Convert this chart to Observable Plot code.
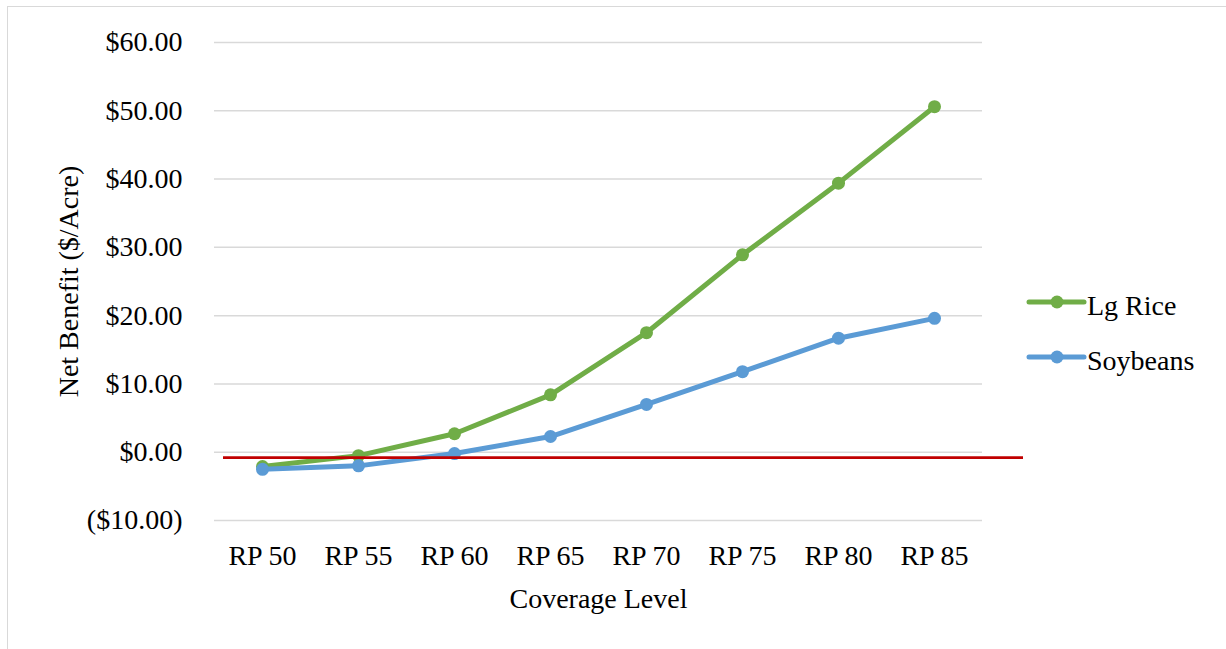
<!DOCTYPE html>
<html>
<head>
<meta charset="utf-8">
<script src="https://cdn.jsdelivr.net/npm/d3@7"></script>
<script src="https://cdn.jsdelivr.net/npm/@observablehq/plot@0.6"></script>
<style>
  html, body { margin: 0; padding: 0; background: #fff; }
  #wrap { position: relative; width: 1226px; height: 649px; overflow: hidden; font-family: "Liberation Serif", "Times New Roman", serif; }
  #border { position: absolute; left: 7px; top: 6px; right: -2px; bottom: -2px; border-top: 1.5px solid #d9d9d9; border-left: 1.5px solid #d9d9d9; }
  #chart { position: absolute; left: 0; top: 0; }
  #legend { position: absolute; left: 1020px; top: 270px; }
</style>
</head>
<body>
<div id="wrap"><div id="border"></div><div id="chart"></div><div id="legend"></div></div>
<script>
const levels = ["RP 50", "RP 55", "RP 60", "RP 65", "RP 70", "RP 75", "RP 80", "RP 85"];
const seriesNames = ["Lg Rice", "Soybeans"];
const lgRice = [-2.1, -0.5, 2.7, 8.4, 17.5, 28.9, 39.4, 50.6];
const soybeans = [-2.5, -2.0, -0.2, 2.3, 7.0, 11.8, 16.7, 19.6];
const seriesColors = ["#70ad47", "#5b9bd5"];
const yTicks = [-10, 0, 10, 20, 30, 40, 50, 60];
const refLine = [-0.8];
const xTitle = "Coverage Level";
const yTitle = "Net Benefit ($/Acre)";

const seriesValues = [lgRice, soybeans];
const rows = seriesNames.flatMap((s, i) => levels.map((l, j) => ({series: s, level: l, value: seriesValues[i][j]})));

const fmt = d => d < 0 ? `($${Math.abs(d).toFixed(2)})` : `$${d.toFixed(2)}`;

const seriesMarks = seriesNames.flatMap(s => {
  const d = rows.filter(r => r.series === s);
  return [
    Plot.line(d, {x: "level", y: "value", stroke: "series", strokeWidth: 5, strokeLinejoin: "round", strokeLinecap: "round"}),
    Plot.dot(d, {x: "level", y: "value", fill: "series", r: 6.5})
  ];
});

const chart = Plot.plot({
  width: 1226,
  height: 649,
  marginLeft: 214,
  marginRight: 244,
  marginTop: 42,
  marginBottom: 129,
  style: {fontFamily: "'Liberation Serif', 'Times New Roman', serif", fontSize: "28px", color: "#000", background: "transparent"},
  x: {type: "point", domain: levels, padding: 0.5},
  y: {domain: [-10, 60]},
  color: {domain: seriesNames, range: seriesColors},
  marks: [
    Plot.gridY(yTicks, {stroke: "#d9d9d9", strokeOpacity: 1, strokeWidth: 1.5}),
    Plot.axisY({ticks: yTicks, tickFormat: fmt, tickSize: 0, tickPadding: 32, label: null, fontSize: 28}),
    Plot.axisX({tickSize: 0, tickPadding: 25, label: null, fontSize: 28}),
    ...seriesMarks,
    Plot.ruleY(refLine, {stroke: "#c00000", strokeWidth: 2.7, insetLeft: 9, insetRight: -41}),
    Plot.text([xTitle], {text: d => d, frameAnchor: "bottom", dy: 79, fontSize: 28, lineAnchor: "middle"}),
    Plot.text([yTitle], {text: d => d, frameAnchor: "left", dx: -145, rotate: -90, textAnchor: "middle", lineAnchor: "middle", fontSize: 28})
  ]
});
document.getElementById("chart").appendChild(chart);

// Legend
const lg = d3.select("#legend").append("svg").attr("width", 206).attr("height", 130)
  .style("font-family", "'Liberation Serif', 'Times New Roman', serif").style("font-size", "28px");
seriesNames.forEach((s, i) => {
  const cy = 32 + 55 * i;
  const g = lg.append("g");
  g.append("line").attr("x1", 9).attr("x2", 64).attr("y1", cy).attr("y2", cy)
    .attr("stroke", seriesColors[i]).attr("stroke-width", 5).attr("stroke-linecap", "round");
  g.append("circle").attr("cx", 37).attr("cy", cy).attr("r", 6.5).attr("fill", seriesColors[i]);
  g.append("text").attr("x", 67).attr("y", cy + 13).attr("fill", "#000").text(s);
});
</script>
</body>
</html>
